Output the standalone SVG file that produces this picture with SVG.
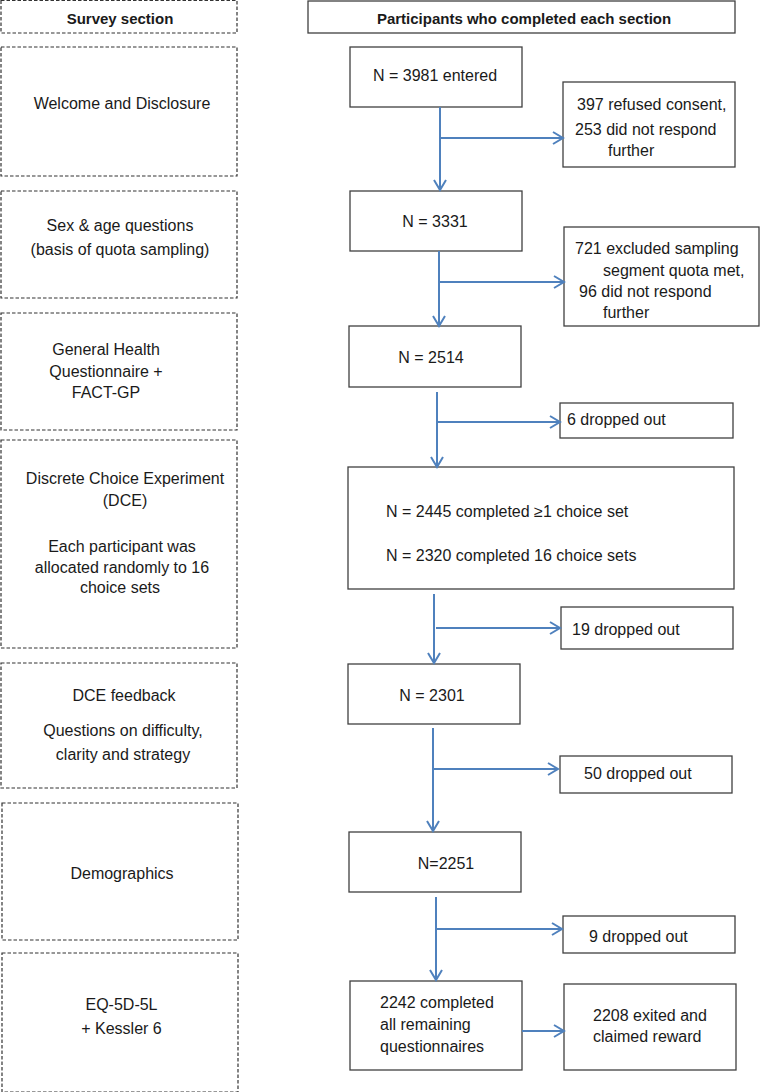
<svg xmlns="http://www.w3.org/2000/svg" width="760" height="1092" viewBox="0 0 760 1092">
<style>
text{font-family:"Liberation Sans",Arial,sans-serif;font-size:16px;fill:#1a1a1a}
.hd{font-weight:bold;font-size:15px}
.c{text-anchor:middle}
.sec{fill:#fff;stroke:#333;stroke-width:1.2;stroke-dasharray:3.5 2}
.box{fill:#fff;stroke:#404040;stroke-width:1.3}
.conn{fill:none;stroke:#4f81bd;stroke-width:2}
</style>
<defs>
<marker id="ah" markerUnits="userSpaceOnUse" markerWidth="14" markerHeight="16" refX="11" refY="7" orient="auto">
<path d="M1,1 L11,7 L1,13" fill="none" stroke="#4f81bd" stroke-width="2"/>
</marker>
</defs>
<rect width="760" height="1092" fill="#fff"/>

<g id="hdr-survey"><rect class="sec" x="1" y="0.5" width="236" height="32.5"/><text class="hd c" x="120" y="23.5">Survey section</text></g>
<g id="hdr-part"><rect class="box" x="308" y="1" width="427" height="32"/><text class="hd c" x="524" y="23.5">Participants who completed each section</text></g>

<g id="s-welcome"><rect class="sec" x="1" y="47" width="236" height="129"/><text class="c" x="122" y="109">Welcome and Disclosure</text></g>
<g id="s-sexage"><rect class="sec" x="1" y="191" width="236" height="107"/><text class="c" x="120" y="231">Sex &amp; age questions</text><text class="c" x="120" y="255">(basis of quota sampling)</text></g>
<g id="s-ghq"><rect class="sec" x="1" y="313" width="236" height="117"/><text class="c" x="106" y="355">General Health</text><text class="c" x="106" y="377">Questionnaire +</text><text class="c" x="106" y="398">FACT-GP</text></g>
<g id="s-dce"><rect class="sec" x="1" y="440" width="236" height="208"/><text class="c" x="125" y="484">Discrete Choice Experiment</text><text class="c" x="125" y="506">(DCE)</text><text class="c" x="122" y="552">Each participant was</text><text class="c" x="122" y="573">allocated randomly to 16</text><text class="c" x="120" y="593">choice sets</text></g>
<g id="s-feedback"><rect class="sec" x="1" y="663" width="236" height="125"/><text class="c" x="124" y="701">DCE feedback</text><text class="c" x="123" y="736">Questions on difficulty,</text><text class="c" x="123" y="760">clarity and strategy</text></g>
<g id="s-demo"><rect class="sec" x="2" y="803" width="236" height="137"/><text class="c" x="122" y="879">Demographics</text></g>
<g id="s-eq"><rect class="sec" x="2" y="953" width="236" height="139"/><text class="c" x="121.5" y="1010">EQ-5D-5L</text><text class="c" x="121.5" y="1034">+ Kessler 6</text></g>

<g id="n3981"><rect class="box" x="350" y="47" width="172" height="60"/><text class="c" x="435" y="81">N = 3981 entered</text></g>
<g id="x1"><rect class="box" x="563" y="82" width="172" height="85"/><text x="577" y="110">397 refused consent,</text><text x="575" y="135">253 did not respond</text><text x="608" y="156">further</text></g>
<g id="n3331"><rect class="box" x="350" y="191" width="172" height="60"/><text class="c" x="435" y="227">N = 3331</text></g>
<g id="x2"><rect class="box" x="564" y="227" width="195" height="99"/><text x="575" y="254">721 excluded sampling</text><text x="603" y="276">segment quota met,</text><text x="579" y="297">96 did not respond</text><text x="603" y="318">further</text></g>
<g id="n2514"><rect class="box" x="349" y="326" width="172" height="61"/><text class="c" x="431" y="363">N = 2514</text></g>
<g id="x3"><rect class="box" x="560" y="403" width="173" height="35"/><text x="567" y="425">6 dropped out</text></g>
<g id="n2445"><rect class="box" x="348" y="467" width="386" height="122"/><text x="386" y="517">N = 2445 completed ≥1 choice set</text><text x="386" y="561">N = 2320 completed 16 choice sets</text></g>
<g id="x4"><rect class="box" x="561" y="607" width="172" height="42"/><text x="572" y="635">19 dropped out</text></g>
<g id="n2301"><rect class="box" x="348" y="664" width="172" height="60"/><text class="c" x="432" y="701">N = 2301</text></g>
<g id="x5"><rect class="box" x="560" y="756" width="172" height="37"/><text x="584" y="779">50 dropped out</text></g>
<g id="n2251"><rect class="box" x="349" y="832" width="172" height="60"/><text class="c" x="446" y="869">N=2251</text></g>
<g id="x6"><rect class="box" x="563" y="916" width="172" height="37"/><text x="589" y="942">9 dropped out</text></g>
<g id="n2242"><rect class="box" x="350" y="981" width="172" height="89"/><text x="380" y="1008">2242 completed</text><text x="380" y="1030">all remaining</text><text x="380" y="1052">questionnaires</text></g>
<g id="n2208"><rect class="box" x="564" y="984" width="172" height="86"/><text x="593" y="1021">2208 exited and</text><text x="593" y="1042">claimed reward</text></g>

<g id="connectors" class="conn">
<line class="conn" x1="440" y1="107" x2="440" y2="190" marker-end="url(#ah)"/>
<line class="conn" x1="440" y1="138" x2="563" y2="138" marker-end="url(#ah)"/>
<line class="conn" x1="439" y1="251" x2="439" y2="326" marker-end="url(#ah)"/>
<line class="conn" x1="439" y1="282" x2="564" y2="282" marker-end="url(#ah)"/>
<line class="conn" x1="437" y1="392" x2="437" y2="467" marker-end="url(#ah)"/>
<line class="conn" x1="437" y1="422" x2="560" y2="422" marker-end="url(#ah)"/>
<line class="conn" x1="434" y1="594" x2="434" y2="663" marker-end="url(#ah)"/>
<line class="conn" x1="436" y1="628" x2="560" y2="628" marker-end="url(#ah)"/>
<line class="conn" x1="433" y1="728" x2="433" y2="831" marker-end="url(#ah)"/>
<line class="conn" x1="433" y1="769" x2="558" y2="769" marker-end="url(#ah)"/>
<line class="conn" x1="436" y1="897" x2="436" y2="980" marker-end="url(#ah)"/>
<line class="conn" x1="437" y1="929" x2="562" y2="929" marker-end="url(#ah)"/>
<line class="conn" x1="522" y1="1031" x2="564" y2="1031" marker-end="url(#ah)"/>
</g>
</svg>
